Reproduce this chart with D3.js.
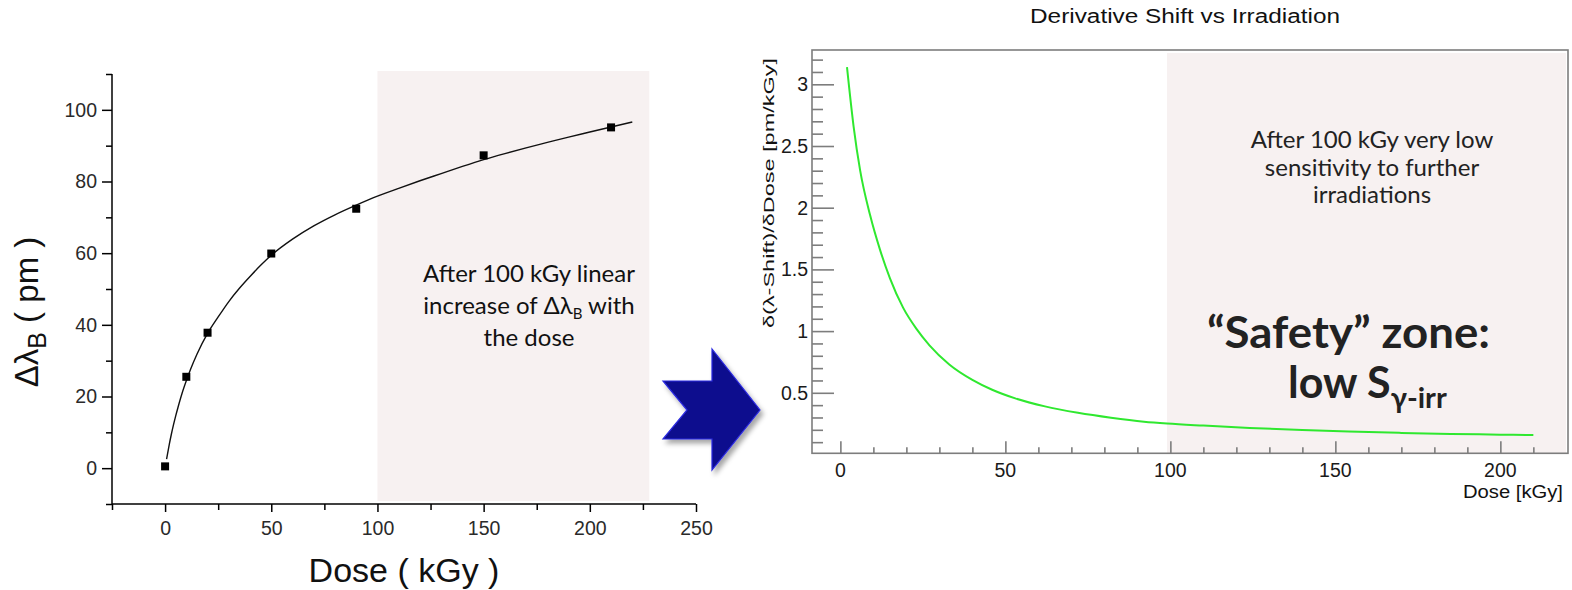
<!DOCTYPE html>
<html><head><meta charset="utf-8">
<script src="https://cdn.jsdelivr.net/npm/d3@7"></script>
<style>body{margin:0;background:#fff}svg{display:block}</style>
</head><body>
<svg id="c" width="1572" height="590"></svg>
<script>
// ---- Left chart data: measured points and fitted curve ----
const doseMeasured = [0, 10, 20, 50, 90, 150, 210];
const shiftMeasured = [0.5, 25.5, 37.8, 59.9, 72.4, 87.3, 95.1];
const fitDose  = [0.7, 1, 2, 3, 4, 5, 6, 8, 10, 12, 15, 20, 25, 30, 35, 40, 45, 50, 60, 70, 80, 90, 100, 110, 120, 130, 140, 150, 160, 170, 180, 190, 200, 210, 220];
const fitShift = [2.5, 3.5, 6.7, 9.6, 12.2, 14.6, 16.8, 20.9, 24.4, 27.6, 31.8, 37.6, 42.2, 46.5, 50.2, 53.5, 56.6, 59.4, 63.9, 67.6, 70.7, 73.4, 75.9, 78.1, 80.2, 82.2, 84.2, 86.1, 87.8, 89.4, 90.9, 92.4, 93.8, 95.2, 96.6];
const leftXTicks = [0, 50, 100, 150, 200, 250];
const leftYTicks = [0, 20, 40, 60, 80, 100];
const leftZone = [100, 228];

// ---- Right chart data: derivative curve ----
const derivDose  = [2, 4, 6, 9, 12, 15, 19, 23, 27, 33, 40, 46, 53, 62, 72, 82, 92, 99, 110, 124, 140, 154, 170, 185, 200, 210];
const derivValue = [3.14, 2.66, 2.30, 1.94, 1.66, 1.43, 1.19, 1.02, 0.885, 0.73, 0.605, 0.525, 0.455, 0.39, 0.338, 0.298, 0.266, 0.251, 0.234, 0.215, 0.198, 0.186, 0.175, 0.167, 0.161, 0.158];
const rightXTicks = [0, 50, 100, 150, 200];
const rightYTicks = [0.5, 1, 1.5, 2, 2.5, 3];
const rightZoneStart = 99;

const svg = d3.select("#c");
const zoneFill = "#f7f1f1";
const af = "Liberation Sans, Arial, Helvetica, sans-serif";
const cf = "Lato, 'Open Sans', sans-serif";

// ================= LEFT CHART =================
const lx = d3.scaleLinear().domain([-25, 250]).range([112, 696]);
const ly = d3.scaleLinear().domain([-10, 110]).range([504, 74]);
const L = svg.append("g");

L.append("rect").attr("x", lx(leftZone[0])).attr("y", 71)
  .attr("width", lx(leftZone[1]) - lx(leftZone[0])).attr("height", 430).attr("fill", zoneFill);

const lxAxis = d3.axisBottom(lx).tickValues(leftXTicks).tickSize(8).tickPadding(9).tickFormat(d3.format("d"));
const lxMinor = d3.axisBottom(lx).tickValues(d3.range(-25, 250, 50)).tickSize(6).tickFormat("");
const lyAxis = d3.axisLeft(ly).tickValues(leftYTicks).tickSize(10).tickPadding(5).tickFormat(d3.format("d"));
const lyMinor = d3.axisLeft(ly).tickValues(d3.range(-10, 111, 20)).tickSize(6).tickFormat("");

function styleAxis(g, col, fs) {
  g.attr("font-size", fs).attr("font-family", af);
  g.selectAll("path,line").attr("stroke", col).attr("stroke-width", 1.5);
  g.selectAll("text").attr("font-family", af).attr("font-size", fs).attr("fill", "#2a2a2a");
}
const gx = L.append("g").attr("transform", "translate(0,504)").call(lxAxis);
gx.select(".domain").attr("d", `M112,0H696`);
styleAxis(gx, "#000", 19.5);
const gxm = L.append("g").attr("transform", "translate(0,504)").call(lxMinor);
gxm.select(".domain").remove(); styleAxis(gxm, "#000", 19.5);
const gy = L.append("g").attr("transform", "translate(112,0)").call(lyAxis);
gy.select(".domain").attr("d", `M0,74V504`);
styleAxis(gy, "#000", 19.5);
const gym = L.append("g").attr("transform", "translate(112,0)").call(lyMinor);
gym.select(".domain").remove(); styleAxis(gym, "#000", 19.5);

L.append("path").datum(fitDose.map((d, i) => [d, fitShift[i]]))
  .attr("fill", "none").attr("stroke", "#111").attr("stroke-width", 1.4)
  .attr("d", d3.line().x(d => lx(d[0])).y(d => ly(d[1])).curve(d3.curveMonotoneX));

L.selectAll("rect.pt").data(doseMeasured).join("rect").attr("class", "pt")
  .attr("x", d => lx(d) - 4).attr("y", (d, i) => ly(shiftMeasured[i]) - 4)
  .attr("width", 8).attr("height", 8).attr("fill", "#000");

L.append("text").attr("x", 404).attr("y", 582).attr("text-anchor", "middle")
  .attr("font-family", af).attr("font-size", 34).attr("fill", "#111")
  .text("Dose ( kGy )");

const yl = L.append("text").attr("transform", "translate(38,312) rotate(-90)").attr("text-anchor", "middle")
  .attr("font-family", af).attr("font-size", 33).attr("fill", "#111");
yl.append("tspan").text("Δλ");
yl.append("tspan").attr("font-size", 25).attr("dy", 8).text("B");
yl.append("tspan").attr("dy", -8).text(" ( pm )");

const la = L.append("text").attr("text-anchor", "middle")
  .attr("font-family", cf).attr("font-size", 24).attr("fill", "#111");
la.append("tspan").attr("x", 529).attr("y", 282).text("After 100 kGy linear");
const l2 = la.append("tspan").attr("x", 529).attr("y", 314);
l2.append("tspan").text("increase of Δλ");
l2.append("tspan").attr("font-size", 15).attr("dy", 5).text("B");
l2.append("tspan").attr("dy", -5).text(" with");
la.append("tspan").attr("x", 529).attr("y", 346).text("the dose");

// ================= ARROW =================
const arrowPts = [[663, 381], [712, 381], [712, 349], [760, 410], [712, 470], [712, 439], [663, 439], [687, 410]];
const defs = svg.append("defs");
const f = defs.append("filter").attr("id", "sh").attr("x", "-20%").attr("y", "-20%").attr("width", "150%").attr("height", "150%");
f.append("feDropShadow").attr("dx", 3).attr("dy", 4).attr("stdDeviation", 2.5).attr("flood-color", "#000").attr("flood-opacity", 0.35);
svg.append("polygon").attr("points", arrowPts.map(p => p.join(",")).join(" "))
  .attr("fill", "#0f0b8e").attr("stroke", "#2a2ae0").attr("stroke-width", 1.2).attr("filter", "url(#sh)");

// ================= RIGHT CHART =================
const rx = d3.scaleLinear().domain([-8.6, 220.5]).range([812, 1568]);
const ry = d3.scaleLinear().domain([0.0097, 3.278]).range([453.3, 50]);
const R = svg.append("g");
const gray = "#7d7d7d";

R.append("rect").attr("x", rx(rightZoneStart)).attr("y", 53)
  .attr("width", 1566 - rx(rightZoneStart)).attr("height", 400).attr("fill", zoneFill);

R.append("rect").attr("x", 812).attr("y", 50).attr("width", 756).attr("height", 403.3)
  .attr("fill", "none").attr("stroke", gray).attr("stroke-width", 1.6);

const rxAxis = d3.axisTop(rx).tickValues(rightXTicks).tickSize(12).tickFormat("");
const rxMinor = d3.axisTop(rx).tickValues(d3.range(10, 211, 10).filter(v => v % 50 !== 0)).tickSize(6).tickFormat("");
const ryAxis = d3.axisRight(ry).tickValues(rightYTicks).tickSize(22).tickFormat("");
const ryMinor = d3.axisRight(ry).tickValues(d3.range(1, 33).map(v => v / 10).filter(v => Math.abs(v * 2 - Math.round(v * 2)) > 1e-6)).tickSize(11).tickFormat("");
[[rxAxis, "translate(0,453.3)"], [rxMinor, "translate(0,453.3)"], [ryAxis, "translate(812,0)"], [ryMinor, "translate(812,0)"]]
  .forEach(([ax, tr]) => {
    const g = R.append("g").attr("transform", tr).call(ax);
    g.select(".domain").remove();
    g.selectAll("line").attr("stroke", gray).attr("stroke-width", 1.6);
  });

R.selectAll("text.xt").data(rightXTicks).join("text").attr("class", "xt")
  .attr("x", d => rx(d)).attr("y", 477).attr("text-anchor", "middle")
  .attr("font-family", af).attr("font-size", 19.5).attr("fill", "#1a1a1a").text(d => d);
R.selectAll("text.yt").data(rightYTicks).join("text").attr("class", "yt")
  .attr("x", 808).attr("y", d => ry(d) + 7).attr("text-anchor", "end")
  .attr("font-family", af).attr("font-size", 19.5).attr("fill", "#1a1a1a").text(d => d);

R.append("path").datum(derivDose.map((d, i) => [d, derivValue[i]]))
  .attr("fill", "none").attr("stroke", "#2fe82f").attr("stroke-width", 2)
  .attr("d", d3.line().x(d => rx(d[0])).y(d => ry(d[1])).curve(d3.curveMonotoneX));

R.append("text").attr("x", 1030).attr("y", 23)
  .attr("font-family", af).attr("font-size", 20).attr("fill", "#111")
  .attr("textLength", 310).attr("lengthAdjust", "spacingAndGlyphs")
  .text("Derivative Shift vs Irradiation");
R.append("text").attr("x", 1463).attr("y", 498)
  .attr("font-family", af).attr("font-size", 17.5).attr("fill", "#111")
  .attr("textLength", 100).attr("lengthAdjust", "spacingAndGlyphs")
  .text("Dose [kGy]");
R.append("text").attr("transform", "translate(774,328) rotate(-90)")
  .attr("font-family", af).attr("font-size", 15).attr("fill", "#111")
  .attr("textLength", 270).attr("lengthAdjust", "spacingAndGlyphs")
  .text("δ(λ-Shift)/δDose [pm/kGy]");

const ra = R.append("text").attr("text-anchor", "middle")
  .attr("font-family", cf).attr("font-size", 24).attr("fill", "#222");
ra.append("tspan").attr("x", 1372).attr("y", 148).text("After 100 kGy very low");
ra.append("tspan").attr("x", 1372).attr("y", 176).text("sensitivity to further");
ra.append("tspan").attr("x", 1372).attr("y", 203).text("irradiations");

R.append("text").attr("x", 1207).attr("y", 348)
  .attr("font-family", cf).attr("font-weight", "bold").attr("font-size", 43).attr("fill", "#222")
  .attr("textLength", 283).attr("lengthAdjust", "spacingAndGlyphs")
  .text("“Safety” zone:");
const lw = R.append("text").attr("x", 1288).attr("y", 398)
  .attr("font-family", cf).attr("font-weight", "bold").attr("font-size", 43).attr("fill", "#222");
lw.append("tspan").text("low S");
lw.append("tspan").attr("font-size", 29).attr("dy", 10).text("γ-irr");
</script>
</body></html>
